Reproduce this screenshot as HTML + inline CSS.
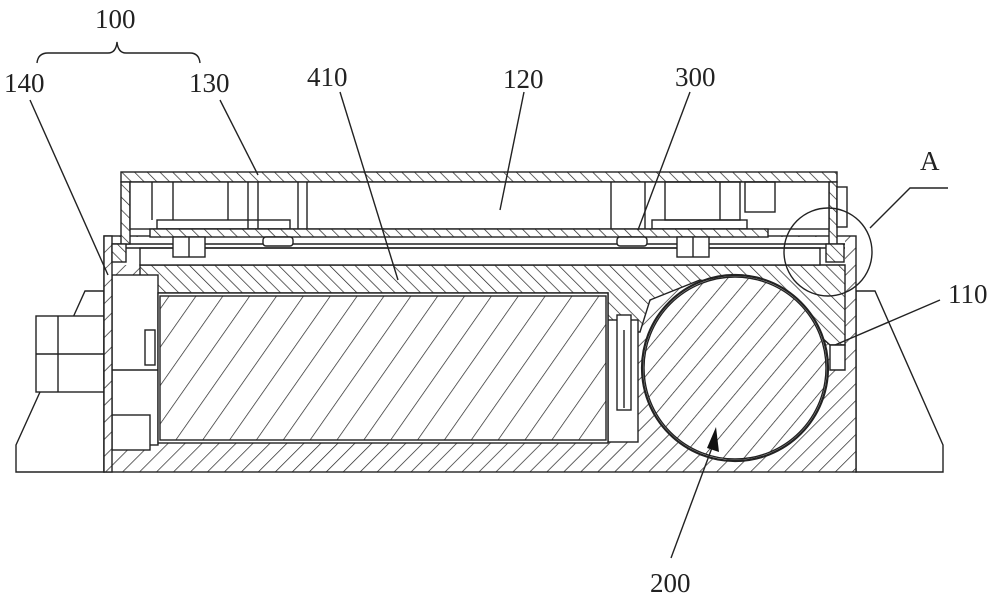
<!DOCTYPE html>
<html><head><meta charset="utf-8"><style>
html,body{margin:0;padding:0;background:#fff;}
svg{display:block;}
text{font-family:"Liberation Serif","Noto Serif CJK SC",serif;font-size:27px;fill:#222;}
</style></head><body>
<svg width="1000" height="602" viewBox="0 0 1000 602" xmlns="http://www.w3.org/2000/svg">
<defs>
<pattern id="hb" width="9" height="9" patternUnits="userSpaceOnUse" patternTransform="rotate(-45)"><rect width="9" height="9" fill="#fff"/><line x1="0" y1="0" x2="0" y2="9" stroke="#222" stroke-width="1.4"/></pattern>
<pattern id="hf" width="12" height="12" patternUnits="userSpaceOnUse" patternTransform="rotate(45)"><rect width="12" height="12" fill="#fff"/><line x1="0" y1="0" x2="0" y2="12" stroke="#222" stroke-width="1.4"/></pattern>
<pattern id="hw" width="22" height="22" patternUnits="userSpaceOnUse" patternTransform="rotate(35)"><rect width="22" height="22" fill="#fff"/><line x1="0" y1="0" x2="0" y2="22" stroke="#222" stroke-width="1.4"/></pattern>
<pattern id="hc" width="16" height="16" patternUnits="userSpaceOnUse" patternTransform="rotate(40)"><rect width="16" height="16" fill="#fff"/><line x1="0" y1="0" x2="0" y2="16" stroke="#222" stroke-width="1.4"/></pattern>
</defs>
<g fill="none" stroke="#222" stroke-width="1.4">
<polygon points="16,472 104,472 104,291 85,291 75,313 40,392 16,445" fill="#fff"/>
<polygon points="856,291 875,291 943,445 943,472 856,472" fill="#fff"/>
<rect x="36" y="316" width="68" height="76" fill="#fff"/>
<line x1="58" y1="316" x2="58" y2="392"/><line x1="36" y1="354" x2="104" y2="354"/>
<rect x="104" y="330" width="6" height="50"/>
<rect x="104" y="236" width="752" height="236" fill="url(#hf)"/>
<rect x="112" y="237" width="733" height="28" fill="#fff" stroke="none"/>
<polygon points="140,265 845,265 845,345 830,345 780,300 700,280 650,300 640,332 608,332 608,293 158,293 140,275" fill="url(#hb)"/>
<rect x="112" y="275" width="46" height="170" fill="#fff"/>
<rect x="112" y="415" width="38" height="35" fill="#fff"/>
<line x1="112" y1="370" x2="158" y2="370"/>
<rect x="608" y="320" width="30" height="122" fill="#fff"/>
<rect x="617" y="315" width="14" height="95" fill="#fff"/>
<line x1="624" y1="330" x2="624" y2="408"/>
<rect x="158" y="293" width="450" height="150" fill="#fff"/>
<rect x="160" y="296" width="446" height="144" fill="url(#hw)"/>
<rect x="145" y="330" width="10" height="35"/>
<polygon points="830,345 845,345 845,370 830,370" fill="#fff"/>
<circle cx="735" cy="368" r="93" fill="#fff" stroke-width="2.2"/>
<circle cx="735" cy="368" r="91" fill="url(#hc)"/>
<rect x="140" y="248" width="680" height="17" fill="#fff"/>
<line x1="112" y1="244" x2="845" y2="244"/>
<line x1="112" y1="248" x2="845" y2="248"/>
<rect x="121" y="172" width="716" height="10" fill="url(#hb)"/>
<rect x="121" y="182" width="9" height="62" fill="url(#hb)"/>
<rect x="829" y="182" width="8" height="62" fill="url(#hb)"/>
<rect x="130" y="182" width="699" height="47" fill="#fff"/>
<rect x="104" y="236" width="8" height="236" fill="url(#hf)"/>
<rect x="112" y="244" width="14" height="18" fill="url(#hb)"/>
<rect x="826" y="244" width="18" height="18" fill="url(#hb)"/>
<rect x="837" y="187" width="10" height="40" fill="#fff"/>
<line x1="152" y1="182" x2="152" y2="220"/><line x1="173" y1="182" x2="173" y2="220"/>
<line x1="228" y1="182" x2="228" y2="220"/><line x1="248" y1="182" x2="248" y2="229"/>
<line x1="258" y1="182" x2="258" y2="229"/><line x1="298" y1="182" x2="298" y2="229"/>
<line x1="307" y1="182" x2="307" y2="229"/>
<rect x="157" y="220" width="133" height="9"/>
<line x1="611" y1="182" x2="611" y2="229"/><line x1="645" y1="182" x2="645" y2="229"/>
<rect x="665" y="182" width="75" height="38"/><line x1="720" y1="182" x2="720" y2="220"/>
<rect x="745" y="182" width="30" height="30"/>
<rect x="652" y="220" width="95" height="9"/>
<rect x="150" y="229" width="618" height="8" fill="url(#hb)"/>
<rect x="173" y="237" width="32" height="20" fill="#fff"/><line x1="189" y1="237" x2="189" y2="257"/>
<rect x="263" y="237" width="30" height="9" rx="3" fill="#fff"/>
<rect x="617" y="237" width="30" height="9" rx="3" fill="#fff"/>
<rect x="677" y="237" width="32" height="20" fill="#fff"/><line x1="693" y1="237" x2="693" y2="257"/>
<circle cx="828" cy="252" r="44"/>
<path d="M37,63 Q38,53 48,53 L108,53 Q116,53 117,42 Q118,53 126,53 L190,53 Q199,53 200,63"/>
<line x1="30" y1="100" x2="108" y2="275"/>
<line x1="220" y1="100" x2="258" y2="175"/>
<line x1="340" y1="92" x2="398" y2="280"/>
<line x1="524" y1="92" x2="500" y2="210"/>
<line x1="690" y1="92" x2="638" y2="230"/>
<polyline points="948,188 910,188 870,228"/>
<line x1="940" y1="300" x2="835" y2="345"/>
<line x1="671" y1="558" x2="713" y2="445"/>
</g>
<polygon points="716,427 707,448 719,452" fill="#111"/>
<text x="95" y="28">100</text>
<text x="4" y="92">140</text>
<text x="189" y="92">130</text>
<text x="307" y="86">410</text>
<text x="503" y="88">120</text>
<text x="675" y="86">300</text>
<text x="920" y="170">A</text>
<text x="948" y="303">110</text>
<text x="650" y="592">200</text>
</svg>
</body></html>
